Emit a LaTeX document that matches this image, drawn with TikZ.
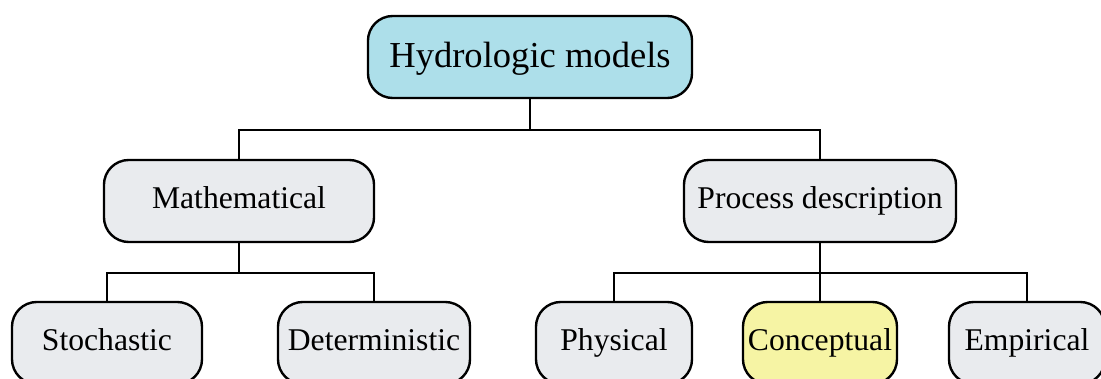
\documentclass[tikz,border=0pt]{standalone}
\usepackage{fontspec}
\setmainfont{Liberation Serif}
\definecolor{boxgray}{HTML}{E9EBEE}
\definecolor{boxblue}{HTML}{ADDFEA}
\definecolor{boxyellow}{HTML}{F6F4A4}
\begin{document}
\begin{tikzpicture}[x=0.025cm,y=-0.025cm,line width=1.7pt,
    mnode/.style={draw,rounded corners=0.62cm,fill=boxgray,
      minimum height=2.05cm,inner sep=0pt,text height=11pt,text depth=0pt,
      font=\fontsize{22.5}{26}\selectfont},
    rnode/.style={mnode,fill=boxblue,text height=15.5pt,font=\fontsize{26}{30}\selectfont}]
    \clip (0,0) rectangle (1101,379);
    \useasboundingbox (0,0) rectangle (1101,379);
    \node[rnode,minimum width=8.1cm] (hydro) at (530,57) {Hydrologic models}; %L0
    \node[mnode,minimum width=6.75cm] (math) at (239,201) {Mathematical};     %L1
    \node[mnode,minimum width=6.8cm] (proc) at (820,201) {Process description};
    \node[mnode,minimum width=4.75cm] (stoch) at (107,343) {Stochastic};      %L2
    \node[mnode,minimum width=4.8cm] (det) at (374,343) {Deterministic};
    \node[mnode,minimum width=3.9cm] (phys) at (614,343) {Physical};
    \node[mnode,minimum width=3.85cm,fill=boxyellow] (conc) at (820,343) {Conceptual};
    \node[mnode,minimum width=3.9cm] (emp) at (1027,343) {Empirical};
    \coordinate (j0) at (530,130);
    \coordinate (j1) at (239,273);
    \coordinate (j2) at (820,273);
    \draw (hydro.south) -- (j0) -| (math.north);
    \draw (j0) -| (proc.north);
    \draw (math.south) -- (j1) -| (stoch.north);
    \draw (j1) -| (det.north);
    \draw (proc.south) -- (j2) -| (phys.north);
    \draw (j2) -| (emp.north);
    \draw (j2) -- (conc.north);
  \end{tikzpicture}
\end{document}
